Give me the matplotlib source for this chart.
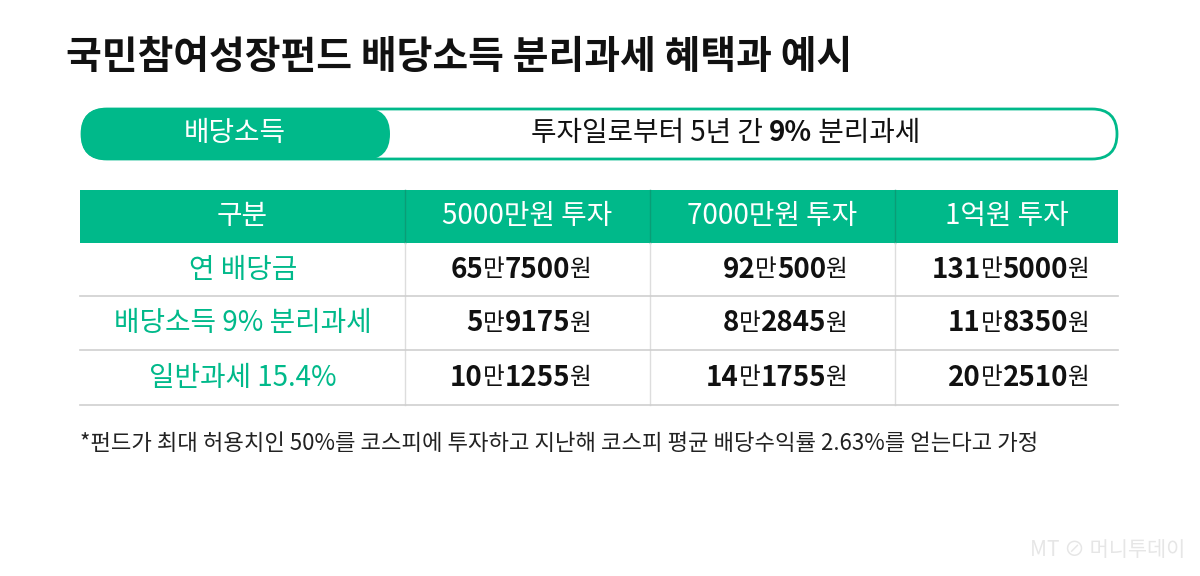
import matplotlib
matplotlib.use("Agg")
import matplotlib.pyplot as plt
from matplotlib.patches import FancyBboxPatch, Rectangle
import re

plt.rcParams['font.family'] = ['Noto Sans CJK KR', 'DejaVu Sans']

title = "국민참여성장펀드 배당소득 분리과세 혜택과 예시"
pill_label = "배당소득"
pill_text_parts = ["투자일로부터 5년 간 ", "9%", " 분리과세"]
columns = ["구분", "5000만원 투자", "7000만원 투자", "1억원 투자"]
row_labels = ["연 배당금", "배당소득 9% 분리과세", "일반과세 15.4%"]
values = [["65만7500원", "92만500원", "131만5000원"],
          ["5만9175원", "8만2845원", "11만8350원"],
          ["10만1255원", "14만1755원", "20만2510원"]]
footnote = "*펀드가 최대 허용치인 50%를 코스피에 투자하고 지난해 코스피 평균 배당수익률 2.63%를 얻는다고 가정"
GREEN = "#00B98A"

fig = plt.figure(figsize=(12, 5.76), dpi=100)
ax = fig.add_axes([0, 0, 1, 1])
ax.set_xlim(0, 1200); ax.set_ylim(576, 0); ax.axis('off')
r = fig.canvas.get_renderer()

ax.text(66, 58, title, fontsize=28, fontweight='bold', va='center', ha='left', color='#111')

# pill
ax.add_patch(FancyBboxPatch((82, 109), 1035, 50, boxstyle="round,pad=0,rounding_size=25",
                            fc='white', ec=GREEN, lw=2))
ax.add_patch(FancyBboxPatch((81, 108), 309, 52, boxstyle="round,pad=0,rounding_size=26",
                            fc=GREEN, ec='none'))
ax.text(235, 133, pill_label, fontsize=20, color='white', ha='center', va='center', fontweight='medium')

def seq_text(x, y, segs, align='left'):
    ts = []
    for s, kw in segs:
        ts.append(ax.text(0, y, s, va='center', ha='left', **kw))
    ws = []
    inv = ax.transData.inverted()
    for t in ts:
        bb = t.get_window_extent(r)
        p0 = inv.transform((bb.x0, bb.y0)); p1 = inv.transform((bb.x1, bb.y0))
        ws.append(p1[0] - p0[0])
    tot = sum(ws)
    cx = x if align == 'left' else (x - tot if align == 'right' else x - tot / 2)
    for t, w in zip(ts, ws):
        t.set_x(cx); cx += w

seq_text(726, 133, [(pill_text_parts[0], dict(fontsize=20, color='#111')),
                    (pill_text_parts[1], dict(fontsize=20, color='#111', fontweight='bold')),
                    (pill_text_parts[2], dict(fontsize=20, color='#111'))], align='center')

# table
bounds = [80, 405, 650, 895, 1118]
ax.add_patch(Rectangle((80, 190), 1038, 53, fc=GREEN, ec='none'))
for i, c in enumerate(columns):
    ax.text((bounds[i] + bounds[i+1]) / 2, 216, c, fontsize=20, color='white', ha='center', va='center')
for b in bounds[1:-1]:
    ax.plot([b, b], [190, 243], color='#0a9d76', lw=1)
    ax.plot([b, b], [243, 405], color='#dddddd', lw=1)
rows_y = [243, 296, 350, 405]
for y in rows_y[1:]:
    ax.plot([80, 1118], [y, y], color='#cfcfcf', lw=1.2)
right_edges = [592, 848, 1090]
for i, lab in enumerate(row_labels):
    yc = (rows_y[i] + rows_y[i+1]) / 2
    ax.text(243, yc, lab, fontsize=20, color=GREEN, ha='center', va='center')
    for j, v in enumerate(values[i]):
        parts = re.findall(r'\d+|\D+', v)
        segs = [(p, dict(fontsize=20, fontweight='bold', color='#111')) if p.isdigit()
                else (p, dict(fontsize=17, color='#111')) for p in parts]
        seq_text(right_edges[j], yc, segs, align='right')

ax.text(80, 443, footnote, fontsize=16, color='#222', ha='left', va='center')
ax.text(1185, 550, "MT ⊘ 머니투데이", fontsize=15, color='#e6e6e6', ha='right', va='center')

fig.savefig("out.png", dpi=100)
